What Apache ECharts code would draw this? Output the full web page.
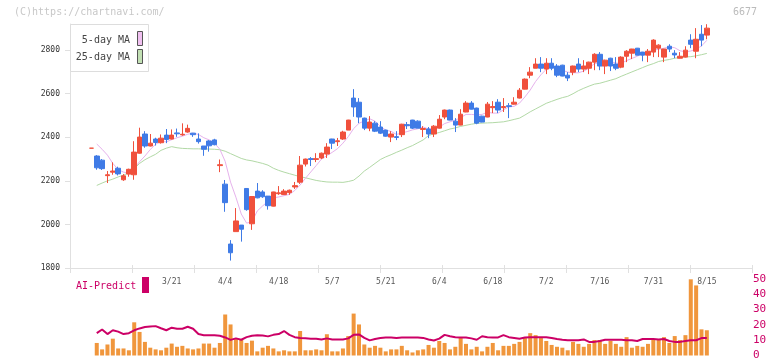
<!DOCTYPE html>
<html><head><meta charset="utf-8">
<script src="https://cdn.jsdelivr.net/npm/echarts@6/dist/echarts.min.js"></script>
<style>html,body{margin:0;padding:0;background:#fff}#c{width:772px;height:361px}</style>
</head><body><div id="c"></div>
<script>
const dates = ['2/27','2/28','3/3','3/4','3/5','3/6','3/7','3/10','3/11','3/12','3/13','3/14','3/17','3/18','3/19','3/21','3/24','3/25','3/26','3/27','3/28','3/31','4/1','4/2','4/3','4/4','4/7','4/8','4/9','4/10','4/11','4/14','4/15','4/16','4/17','4/18','4/21','4/22','4/23','4/24','4/25','4/28','4/30','5/1','5/2','5/7','5/8','5/9','5/12','5/13','5/14','5/15','5/16','5/19','5/20','5/21','5/22','5/23','5/26','5/27','5/28','5/29','5/30','6/2','6/3','6/4','6/5','6/6','6/9','6/10','6/11','6/12','6/13','6/16','6/17','6/18','6/19','6/20','6/23','6/24','6/25','6/26','6/27','6/30','7/1','7/2','7/3','7/4','7/7','7/8','7/9','7/10','7/11','7/14','7/15','7/16','7/17','7/18','7/22','7/23','7/24','7/25','7/28','7/29','7/30','7/31','8/1','8/4','8/5','8/6','8/7','8/8','8/12','8/13','8/14','8/15'];
const tickLabels = ['3/21','4/4','4/18','5/7','5/21','6/4','6/18','7/2','7/16','7/31','8/15'];
const priceTicks = [1800,2000,2200,2400,2600,2800];

const openP = [2350,2314,2295,2224,2240,2258,2205,2231,2228,2327, 2415,2360,2392,2375,2410,2392,2420,2411,2424,2419, 2392,2360,2383,2388,2270,2185,1910,1967,1997,2165, 2003,2153,2149,2130,2084,2141,2137,2146,2172,2194, 2277,2302,2298,2305,2323,2392,2380,2392,2433,2580, 2561,2488,2442,2465,2447,2433,2401,2403,2412,2458, 2479,2474,2436,2438,2415,2442,2493,2525,2474,2456, 2516,2557,2534,2497,2493,2536,2561,2536,2545,2552, 2580,2621,2685,2717,2736,2713,2740,2727,2731,2685, 2699,2736,2713,2717,2745,2781,2727,2763,2736,2722, 2772,2786,2809,2791,2777,2791,2809,2768,2818,2786, 2763,2768,2846,2795,2873,2869];
const closeP = [2350,2260,2256,2228,2245,2232,2223,2253,2332,2401, 2360,2373,2376,2396,2390,2410,2416,2414,2441,2412, 2380,2345,2361,2366,2274,2100,1870,2016,1978,2068, 2128,2122,2127,2086,2149,2145,2153,2157,2178,2272, 2300,2298,2302,2327,2355,2373,2384,2424,2479,2539, 2493,2442,2470,2428,2419,2405,2415,2399,2460,2453, 2442,2442,2440,2415,2451,2483,2525,2479,2456,2506, 2557,2529,2465,2470,2552,2541,2525,2541,2541,2561, 2616,2667,2699,2736,2717,2740,2717,2685,2681,2672, 2727,2713,2727,2745,2781,2727,2754,2727,2717,2768, 2795,2805,2777,2777,2795,2846,2823,2805,2805,2778, 2772,2800,2827,2850,2846,2901];
const lowP = [2350,2251,2250,2190,2228,2225,2200,2219,2205,2325, 2352,2358,2362,2371,2373,2390,2402,2407,2421,2402, 2371,2315,2334,2363,2240,2058,1834,1967,1921,2063, 1975,2120,2122,2068,2083,2136,2135,2136,2163,2186, 2266,2268,2286,2300,2305,2346,2360,2388,2433,2494, 2465,2433,2428,2424,2415,2403,2378,2387,2401,2438, 2438,2442,2401,2396,2401,2440,2483,2478,2424,2455, 2515,2528,2460,2469,2492,2511,2511,2516,2488,2550, 2578,2620,2671,2717,2699,2690,2708,2676,2680,2658, 2685,2699,2699,2690,2708,2708,2690,2704,2708,2717, 2745,2759,2776,2749,2745,2768,2768,2745,2791,2763, 2762,2766,2809,2763,2818,2850];
const highP = [2350,2318,2300,2245,2285,2265,2231,2256,2382,2444, 2428,2415,2398,2413,2438,2436,2440,2464,2458,2420, 2418,2360,2387,2393,2298,2204,1928,2075,1997,2166, 2128,2190,2157,2130,2150,2176,2162,2160,2195,2314, 2302,2309,2327,2330,2373,2393,2397,2430,2480,2621, 2580,2490,2497,2474,2474,2435,2428,2428,2462,2470, 2480,2478,2451,2447,2456,2502,2527,2527,2488,2529, 2566,2566,2536,2499,2562,2566,2575,2580,2557,2584, 2626,2670,2722,2763,2768,2763,2763,2736,2733,2699, 2729,2763,2754,2747,2786,2791,2756,2765,2768,2772, 2800,2806,2810,2792,2805,2850,2827,2806,2827,2800, 2791,2818,2873,2901,2915,2919];
const ma5 = [null,2369,2345,2318,2280,2252,2240,2236,2257,2288, 2314,2344,2368,2381,2379,2389,2398,2405,2414,2419, 2413,2398,2388,2373,2345,2289,2194,2125,2048,2006, 2012,2062,2085,2106,2122,2126,2132,2138,2156,2181, 2212,2241,2270,2300,2316,2331,2348,2373,2403,2440, 2464,2475,2485,2474,2450,2433,2427,2413,2420,2426, 2434,2439,2447,2438,2438,2446,2463,2471,2479,2490, 2505,2505,2503,2505,2515,2511,2511,2526,2540,2542, 2557,2585,2617,2656,2687,2712,2722,2719,2708,2699, 2696,2696,2704,2717,2739,2739,2747,2747,2741,2739, 2752,2762,2772,2784,2790,2800,2804,2809,2815,2811, 2797,2792,2796,2805,2819,2845];
const ma25 = [null,2179,2190,2200,2208,2218,2226,2238,2256,2280, 2297,2310,2322,2340,2350,2357,2352,2349,2348,2347, 2347,2346,2346,2345,2343,2336,2325,2314,2303,2296, 2292,2286,2280,2272,2258,2248,2240,2233,2226,2219, 2214,2208,2202,2198,2195,2194,2194,2193,2197,2203, 2222,2245,2262,2280,2298,2310,2320,2331,2341,2352, 2362,2375,2388,2408,2416,2422,2430,2438,2443,2450, 2455,2460,2464,2465,2466,2467,2469,2471,2476,2482, 2488,2502,2517,2530,2543,2556,2565,2574,2582,2588, 2600,2614,2625,2635,2644,2648,2655,2662,2669,2680, 2690,2700,2710,2720,2730,2738,2748,2753,2757,2763, 2766,2769,2770,2774,2779,2785];
const volume = [null,8.2,4.0,7.2,11,4.6,4.6,3.4,21.7,15.4, 8.9,5.1,4.0,3.4,5.1,7.8,5.7,6.3,4.6,4.0, 4.6,7.8,7.8,5.1,8.2,26.8,20.3,11,10.3,8.2, 9.7,2.7,5.1,6.3,4.6,2.7,3.4,2.7,2.7,16, 3.4,3.4,4.0,3.4,13.9,2.7,2.7,4.6,12.7,27.4, 20.3,7.2,5.1,6.3,5.1,2.7,4.0,4.0,6.3,3.4, 2.0,3.4,4.0,6.9,5.1,9.5,8.2,4.0,5.7,11.4, 7.6,4.0,5.7,2.7,5.7,8.2,3.4,6.3,6.3,7.6, 8.9,11.4,14.6,13.3,11.4,9.5,6.9,5.7,5.1,3.4, 8.9,7.6,5.7,7.6,10.1,10.1,7.6,9.5,7.6,5.7, 12.0,5.1,6.3,5.7,7.6,10.8,10.8,12.0,8.2,12.7, 10.1,13.3,49.8,45.8,17.1,16.5];
const aiPredict = [null,14.6,17,14,16.5,15.6,14,14.6,16.5,17.7, 18.6,19,19.2,17.8,16.5,18.2,17.5,17.5,18.8,17.5, 14,13.3,13.3,13.3,12.9,11.8,10.2,11.2,10.3,12, 12.9,13.3,13,12.5,13.5,14,16,13.5,12,11.4, 11.2,11,11,10.5,11.2,10.5,10.5,10.5,11.2,13.5, 13.8,11.5,9.9,10.8,11.5,11.8,11.8,11.5,11.8,11.8, 11.8,11.8,11.5,10.5,9.8,11,13.5,12.6,12,11.8, 11.8,11.2,10.3,12.6,12,11.8,11.8,13.3,12,11.5, 11,11.8,12,12,12,12,11.5,10.8,10.3,10, 10,10,10.5,8.9,8.9,9.5,10.3,10.3,10.3,10.3, 10,10,9.5,10.8,10.8,10.8,10.5,10.8,9.5,8.9, 8.9,9.5,10,10,11.4,11.4];

const PAD_L = 4, PAD_R = 9;
const cats = [];
for (let k = 0; k < PAD_L; k++) cats.push('_l' + k);
dates.forEach(d => cats.push(d));
for (let k = 0; k < PAD_R; k++) cats.push('_r' + k);
const candle = dates.map((d, i) => [i + PAD_L, openP[i], closeP[i], lowP[i], highP[i]]);
const pts = arr => arr.map((v, i) => [i + PAD_L, v]).filter(p => p[1] !== null);

const MONO = 'DejaVu Sans Mono';
const AXC = '#e0e0e0';
const UP = '#f0503c', DOWN = '#3f7be6';

const chart = echarts.init(document.getElementById('c'), null, {renderer: 'canvas'});
chart.setOption({
  animation: false,
  backgroundColor: '#fff',
  grid: [
    {left: 70, width: 685, top: 24, height: 244},
    {left: 70, width: 682, top: 24, height: 244},
    {left: 70, width: 685, top: 279, height: 79}
  ],
  xAxis: [
    {type: 'category', gridIndex: 0, data: cats, boundaryGap: false,
     axisLine: {show: false}, axisTick: {show: false}, splitLine: {show: false},
     axisLabel: {interval: 0, margin: 10, fontSize: 8, fontFamily: MONO, color: '#555',
       formatter: v => tickLabels.includes(v) ? v : ''}},
    {type: 'value', gridIndex: 1, min: 0, max: 11, interval: 1, position: 'bottom',
     axisLine: {show: true, lineStyle: {color: AXC, width: 1}},
     axisTick: {show: true, length: 5, lineStyle: {color: AXC}},
     axisLabel: {show: false}, splitLine: {show: false}},
    {type: 'value', gridIndex: 1, min: 0, max: 11, interval: 1, position: 'bottom',
     axisLine: {show: false},
     axisTick: {show: true, inside: true, length: 3, lineStyle: {color: AXC}},
     axisLabel: {show: false}, splitLine: {show: false}},
    {type: 'category', gridIndex: 2, data: cats, boundaryGap: false, show: false}
  ],
  yAxis: [
    {type: 'value', gridIndex: 0, min: 1800, max: 2920,
     axisLine: {show: true, lineStyle: {color: AXC, width: 1}},
     axisTick: {show: true, length: 5, customValues: priceTicks, lineStyle: {color: AXC}},
     axisLabel: {customValues: priceTicks, fontSize: 8, fontFamily: MONO, color: '#333', margin: 10,
       formatter: v => String(v)},
     splitLine: {show: false}},
    {type: 'value', gridIndex: 1, show: false, min: 0, max: 1},
    {type: 'value', gridIndex: 2, position: 'right', min: 0, max: 50, interval: 10,
     axisLine: {show: false}, axisTick: {show: false}, splitLine: {show: false},
     axisLabel: {color: '#cc0066', fontSize: 11, fontFamily: MONO, margin: -2}}
  ],
  series: [
    {type: 'line', xAxisIndex: 0, yAxisIndex: 0, data: pts(ma25), showSymbol: false, z: 2,
     lineStyle: {color: '#b2d9a6', width: 1}, itemStyle: {color: '#b2d9a6'}},
    {type: 'line', xAxisIndex: 0, yAxisIndex: 0, data: pts(ma5), showSymbol: false, z: 2,
     lineStyle: {color: '#e6b2ec', width: 1}, itemStyle: {color: '#e6b2ec'}},
    {type: 'candlestick', xAxisIndex: 0, yAxisIndex: 0, data: candle, z: 3,
     encode: {x: 0, y: [1, 2, 3, 4]}, barWidth: 5,
     itemStyle: {color: UP, color0: DOWN, borderColor: UP, borderColor0: DOWN, borderWidth: 1}},
    {type: 'bar', xAxisIndex: 3, yAxisIndex: 2, data: pts(volume), barWidth: 4,
     itemStyle: {color: '#f0963c'}},
    {type: 'line', xAxisIndex: 3, yAxisIndex: 2, data: pts(aiPredict), showSymbol: false, z: 4,
     lineStyle: {color: '#cc0066', width: 2}, itemStyle: {color: '#cc0066'}}
  ],
  graphic: [
    {type: 'text', x: 14, y: 12, z: 100, style: {text: '(C)https://chartnavi.com/', fill: '#c8c8c8', font: '10px ' + MONO, verticalAlign: 'middle'}},
    {type: 'text', x: 757, y: 12, z: 100, style: {text: '6677', fill: '#bbbbbb', font: '10px ' + MONO, align: 'right', verticalAlign: 'middle'}},
    {type: 'rect', z: 100, shape: {x: 70.5, y: 24.5, width: 78, height: 47}, style: {fill: '#fff', stroke: '#dddddd', lineWidth: 1}},
    {type: 'text', x: 130, y: 40, z: 101, style: {text: '5-day MA', fill: '#444', font: '10px ' + MONO, align: 'right', verticalAlign: 'middle'}},
    {type: 'rect', z: 101, shape: {x: 137.5, y: 31.5, width: 5, height: 14}, style: {fill: '#f0c0f0', stroke: '#555', lineWidth: 1}},
    {type: 'text', x: 130, y: 57, z: 101, style: {text: '25-day MA', fill: '#444', font: '10px ' + MONO, align: 'right', verticalAlign: 'middle'}},
    {type: 'rect', z: 101, shape: {x: 137.5, y: 49.5, width: 5, height: 14}, style: {fill: '#c2e0b4', stroke: '#555', lineWidth: 1}},
    {type: 'text', x: 76, y: 286, z: 100, style: {text: 'AI-Predict', fill: '#cc0066', font: '10px ' + MONO, verticalAlign: 'middle'}},
    {type: 'rect', z: 100, shape: {x: 142, y: 277, width: 7, height: 16}, style: {fill: '#cc0066'}}
  ]
});
</script>
</body></html>
